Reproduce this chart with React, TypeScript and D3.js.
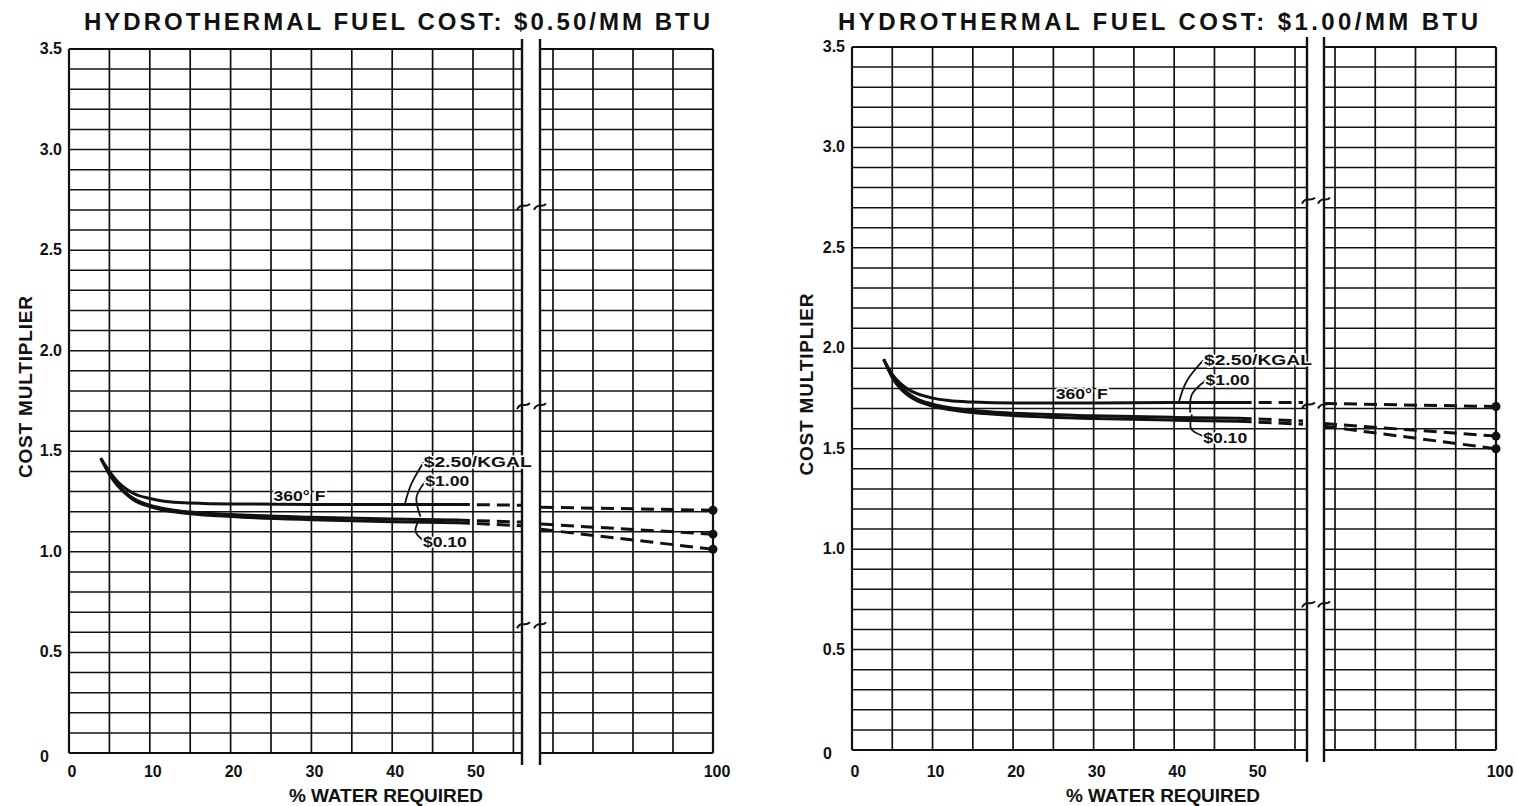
import React from "react";
import * as d3 from "d3";

// ---------- data ----------
const yTicks = [0, 0.5, 1, 1.5, 2, 2.5, 3, 3.5];
const yTickLabels = ["0", "0.5", "1.0", "1.5", "2.0", "2.5", "3.0", "3.5"];
const xTicksLeft = [0, 10, 20, 30, 40, 50];
const xTicksRight = [100];
const panelTitles = [
  "HYDROTHERMAL FUEL COST: $0.50/MM BTU",
  "HYDROTHERMAL FUEL COST: $1.00/MM BTU",
];
const seriesNames = ["$2.50/KGAL", "$1.00", "$0.10"];
const tempLabel = "360° F";
const yAxisTitle = "COST MULTIPLIER";
const xAxisTitle = "% WATER REQUIRED";

// % water required (solid part) and dashed extrapolations
const solidX = [4, 5, 6, 7, 8, 10, 12, 15, 20, 30, 40, 48];
const dashLeftX = [48, 56];
const dashRightX = [78.5, 100];

// Panel 1: $0.50/MM BTU
const p1Kgal250 = [1.46, 1.4, 1.35, 1.315, 1.29, 1.265, 1.25, 1.243, 1.238, 1.236, 1.236, 1.236];
const p1Kgal100 = [1.46, 1.39, 1.335, 1.295, 1.265, 1.232, 1.213, 1.198, 1.186, 1.172, 1.163, 1.158];
const p1Kgal010 = [1.46, 1.385, 1.33, 1.29, 1.258, 1.225, 1.205, 1.19, 1.176, 1.16, 1.15, 1.145];
const p1DashLeft250 = [1.236, 1.232];
const p1DashLeft100 = [1.158, 1.148];
const p1DashLeft010 = [1.145, 1.13];
const p1DashRight250 = [1.222, 1.207];
const p1DashRight100 = [1.138, 1.088];
const p1DashRight010 = [1.112, 1.013];

// Panel 2: $1.00/MM BTU
const p2Kgal250 = [1.94, 1.87, 1.825, 1.795, 1.775, 1.752, 1.74, 1.732, 1.727, 1.727, 1.73, 1.73];
const p2Kgal100 = [1.94, 1.86, 1.81, 1.775, 1.75, 1.722, 1.705, 1.69, 1.677, 1.664, 1.656, 1.652];
const p2Kgal010 = [1.94, 1.855, 1.8, 1.765, 1.74, 1.712, 1.695, 1.68, 1.665, 1.651, 1.642, 1.637];
const p2DashLeft250 = [1.73, 1.73];
const p2DashLeft100 = [1.652, 1.638];
const p2DashLeft010 = [1.637, 1.622];
const p2DashRight250 = [1.725, 1.71];
const p2DashRight100 = [1.625, 1.563];
const p2DashRight010 = [1.612, 1.5];

// label anchors (x = % water, y = multiplier)
const p1LabelAnchors = [[43.9, 1.447], [44.1, 1.35], [43.8, 1.05]];
const p1TempAnchor = [25.3, 1.28];
const p1Leaders = [
  [[41.6, 1.243], [42.4, 1.34], [43.9, 1.447]],
  [[43.5, 1.175], [43.0, 1.27], [44.1, 1.35]],
  [[43.2, 1.15], [42.9, 1.1], [43.8, 1.058]],
];
const p2LabelAnchors = [[43.7, 1.94], [43.9, 1.84], [43.6, 1.553]];
const p2TempAnchor = [25.3, 1.773];
const p2Leaders = [
  [[40.6, 1.735], [41.6, 1.84], [43.6, 1.94]],
  [[42.0, 1.68], [42.2, 1.77], [43.9, 1.84]],
  [[42.2, 1.67], [42.1, 1.6], [43.6, 1.563]],
];
const p1BreakMarks = [2.72, 1.73, 0.64];
const p2BreakMarks = [2.74, 1.72, 0.73];

// ---------- layout ----------
const W = 1517;
const H = 806;
const FONT = "'Liberation Sans', Arial, sans-serif";

const panels = [
  {
    title: panelTitles[0],
    xStart: 69, x55: 513.4, breakL: 522, breakR: 540, x80: 553, x100: 713,
    yTop: 49, yBottom: 753,
    titleCx: 397, titleLen: 626, yTitleX: 32, yTickRight: 62, xTitleCx: 386,
    solid: [p1Kgal250, p1Kgal100, p1Kgal010],
    dashL: [p1DashLeft250, p1DashLeft100, p1DashLeft010],
    dashR: [p1DashRight250, p1DashRight100, p1DashRight010],
    anchors: p1LabelAnchors, temp: p1TempAnchor, leaders: p1Leaders, breaks: p1BreakMarks,
  },
  {
    title: panelTitles[1],
    xStart: 852, x55: 1295, breakL: 1307, breakR: 1324, x80: 1335, x100: 1496,
    yTop: 47, yBottom: 750,
    titleCx: 1158, titleLen: 640, yTitleX: 813, yTickRight: 845, xTitleCx: 1163,
    solid: [p2Kgal250, p2Kgal100, p2Kgal010],
    dashL: [p2DashLeft250, p2DashLeft100, p2DashLeft010],
    dashR: [p2DashRight250, p2DashRight100, p2DashRight010],
    anchors: p2LabelAnchors, temp: p2TempAnchor, leaders: p2Leaders, breaks: p2BreakMarks,
  },
];

function Panel({ p }: { p: any }) {
  const xL = d3.scaleLinear().domain([0, 55]).range([p.xStart, p.x55]);
  const xR = d3.scaleLinear().domain([80, 100]).range([p.x80, p.x100]);
  const y = d3.scaleLinear().domain([0, 3.5]).range([p.yBottom, p.yTop]);
  const hGrid = d3.range(0, 36).map((i) => i / 10);
  const vGridL = d3.range(0, 56, 5);
  const vGridR = [80, 85, 90, 95, 100];
  const breakLVal = xL.invert(p.breakL);
  const breakRVal = xR.invert(p.breakR);

  const lineL = d3.line<[number, number]>().x((d) => xL(d[0])).y((d) => y(d[1])).curve(d3.curveMonotoneX);
  const lineR = d3.line<[number, number]>().x((d) => xR(d[0])).y((d) => y(d[1]));
  const leaderLine = d3.line<[number, number]>().x((d) => xL(d[0])).y((d) => y(d[1])).curve(d3.curveNatural);

  const gridColor = "#111";
  return (
    <g>
      <text x={p.titleCx} y={30} textAnchor="middle" fontFamily={FONT} fontWeight="bold" fontSize={24}
        textLength={p.titleLen} lengthAdjust="spacing" fill="#111">{p.title}</text>

      {/* horizontal grid */}
      {hGrid.map((v, i) => (
        <g key={"h" + i}>
          <line x1={p.xStart} x2={p.breakL} y1={y(v)} y2={y(v)} stroke={gridColor}
            strokeWidth={i === 0 || i === 35 ? 2 : 1.5} />
          <line x1={p.breakR} x2={p.x100} y1={y(v)} y2={y(v)} stroke={gridColor}
            strokeWidth={i === 0 || i === 35 ? 2 : 1.5} />
        </g>
      ))}
      {/* vertical grid */}
      {vGridL.map((v) => (
        <line key={"vl" + v} x1={xL(v)} x2={xL(v)} y1={p.yTop} y2={p.yBottom} stroke={gridColor}
          strokeWidth={v === 0 ? 2.2 : 1.7} />
      ))}
      {vGridR.map((v) => (
        <line key={"vr" + v} x1={xR(v)} x2={xR(v)} y1={p.yTop} y2={p.yBottom} stroke={gridColor}
          strokeWidth={v === 100 ? 2.2 : 1.7} />
      ))}
      {/* break lines */}
      <line x1={p.breakL} x2={p.breakL} y1={p.yTop - 10} y2={p.yBottom + 12} stroke={gridColor} strokeWidth={2.4} />
      <line x1={p.breakR} x2={p.breakR} y1={p.yTop - 10} y2={p.yBottom + 12} stroke={gridColor} strokeWidth={2.4} />
      {p.breaks.map((v: number, i: number) => (
        <g key={"bk" + i} fill="none" stroke={gridColor} strokeWidth={2}>
          <path d={`M${p.breakL - 5},${y(v) + 4} C${p.breakL - 1},${y(v) - 4} ${p.breakL + 3},${y(v) + 3} ${p.breakL + 8},${y(v) - 2}`} />
          <path d={`M${p.breakR - 6},${y(v) + 4} C${p.breakR - 2},${y(v) - 4} ${p.breakR + 2},${y(v) + 3} ${p.breakR + 6},${y(v) - 2}`} />
        </g>
      ))}

      {/* y ticks */}
      {yTicks.map((v, i) => (
        <text key={"yt" + i} x={v === 0 ? p.yTickRight - 13 : p.yTickRight} y={y(v) + (v === 0 ? 9 : 5)}
          textAnchor="end" fontFamily={FONT} fontWeight="bold" fontSize={16} fill="#111">{yTickLabels[i]}</text>
      ))}
      {/* x ticks */}
      {xTicksLeft.map((v) => (
        <text key={"xt" + v} x={xL(v) + 3} y={777} textAnchor="middle" fontFamily={FONT} fontWeight="bold"
          fontSize={16} fill="#111">{v}</text>
      ))}
      {xTicksRight.map((v) => (
        <text key={"xr" + v} x={xR(v) + 4} y={777} textAnchor="middle" fontFamily={FONT} fontWeight="bold"
          fontSize={16} fill="#111">{v}</text>
      ))}
      <text x={p.xTitleCx} y={802} textAnchor="middle" fontFamily={FONT} fontWeight="bold" fontSize={19}
        textLength={194} lengthAdjust="spacing" fill="#111">{xAxisTitle}</text>
      <text transform={`translate(${p.yTitleX},${(p.yTop + p.yBottom) / 2 - 14}) rotate(-90)`} textAnchor="middle"
        fontFamily={FONT} fontWeight="bold" fontSize={19} textLength={182} lengthAdjust="spacing"
        fill="#111">{yAxisTitle}</text>

      {/* curves */}
      {p.solid.map((vals: number[], si: number) => (
        <path key={"s" + si} d={lineL(solidX.map((x, i) => [x, vals[i]]) as any) || ""} fill="none"
          stroke="#111" strokeWidth={3} strokeLinecap="round" />
      ))}
      {p.dashL.map((vals: number[], si: number) => (
        <path key={"dl" + si}
          d={lineL(dashLeftX.map((x, i) => [Math.min(x, breakLVal), vals[i]]) as any) || ""}
          fill="none" stroke="#111" strokeWidth={3} strokeDasharray="13 7" />
      ))}
      {p.dashR.map((vals: number[], si: number) => (
        <path key={"dr" + si}
          d={lineR(dashRightX.map((x, i) => [Math.max(x, breakRVal), vals[i]]) as any) || ""}
          fill="none" stroke="#111" strokeWidth={3} strokeDasharray="13 7" />
      ))}
      {p.dashR.map((vals: number[], si: number) => (
        <circle key={"dot" + si} cx={xR(dashRightX[1])} cy={y(vals[1])} r={4.5} fill="#111" />
      ))}

      {/* leaders and labels */}
      {p.leaders.map((pts: [number, number][], i: number) => (
        <path key={"ld" + i} d={leaderLine(pts) || ""} fill="none" stroke="#111" strokeWidth={1.8} />
      ))}
      {p.anchors.map((a: number[], i: number) => (
        <text key={"lb" + i} x={xL(a[0])} y={y(a[1]) + 5} fontFamily={FONT} fontWeight="bold" fontSize={15}
          textLength={i === 0 ? 108 : 44} lengthAdjust="spacingAndGlyphs" fill="#111"
          stroke="#fff" strokeWidth={3} paintOrder="stroke">{seriesNames[i]}</text>
      ))}
      <text x={xL(p.temp[0])} y={y(p.temp[1]) + 5} fontFamily={FONT} fontWeight="bold" fontSize={15}
        textLength={52} lengthAdjust="spacingAndGlyphs" fill="#111" stroke="#fff" strokeWidth={3}
        paintOrder="stroke">{tempLabel}</text>
    </g>
  );
}

export default function App() {
  return (
    <svg width={W} height={H} viewBox={`0 0 ${W} ${H}`}
      style={{ position: "absolute", left: 0, top: 0, display: "block", background: "#fff" }}>
      <rect x={0} y={0} width={W} height={H} fill="#fff" />
      {panels.map((p, i) => (
        <Panel key={i} p={p} />
      ))}
    </svg>
  );
}
